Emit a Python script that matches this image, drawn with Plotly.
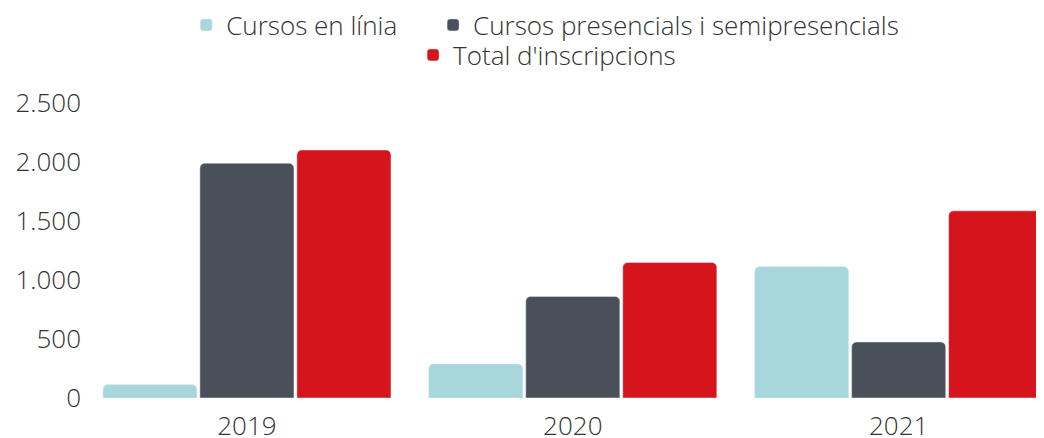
import plotly.graph_objects as go

years = ["2019", "2020", "2021"]
online = [114, 289, 1115]
presencial = [1990, 861, 475]
total = [2102, 1149, 1586]

names = ["Cursos en línia", "Cursos presencials i semipresencials", "Total d'inscripcions"]
colors = ["#A7D7DB", "#4A5059", "#D5141C"]

font = dict(family="Open Sans", size=26, color="#333333", weight=300)

fig = go.Figure()
fig.add_trace(go.Bar(x=years, y=online, name=names[0], marker_color=colors[0], legend="legend"))
fig.add_trace(go.Bar(x=years, y=presencial, name=names[1], marker_color=colors[1], legend="legend2"))
fig.add_trace(go.Bar(x=years, y=total, name=names[2], marker_color=colors[2], legend="legend3"))

fig.update_traces(hoverinfo="skip", showlegend=True)

# one legend per entry so each can sit where the original puts it
leg = dict(orientation="h", xref="container", yref="container", xanchor="left",
           yanchor="middle", font=font, bgcolor="rgba(0,0,0,0)")

# the page body has an 8px margin, so the figure is placed to compensate
H = 438
fig.update_layout(
    width=1036,
    height=H,
    margin=dict(l=76, r=0, t=95, b=48),
    plot_bgcolor="#FFFFFF",
    paper_bgcolor="#FFFFFF",
    font=font,
    separators=",.",
    showlegend=True,
    barmode="group",
    bargap=0.107,
    bargroupgap=0.03,
    barcornerradius=5,
    legend=dict(leg, x=0.172, y=1 - 17 / H),
    legend2=dict(leg, x=0.4103, y=1 - 17 / H),
    legend3=dict(leg, x=0.391, y=1 - 47 / H),
)

fig.update_xaxes(range=[-0.5, 2.446], showgrid=False, zeroline=False, showline=False,
                 ticks="", ticklabelstandoff=10, tickfont=font, automargin=False)
fig.update_yaxes(range=[0, 2500], dtick=500, tickformat=",d", showgrid=False,
                 zeroline=False, showline=False, ticks="", ticklabelstandoff=2,
                 tickfont=font, automargin=False)

fig.write_html("out.html")
